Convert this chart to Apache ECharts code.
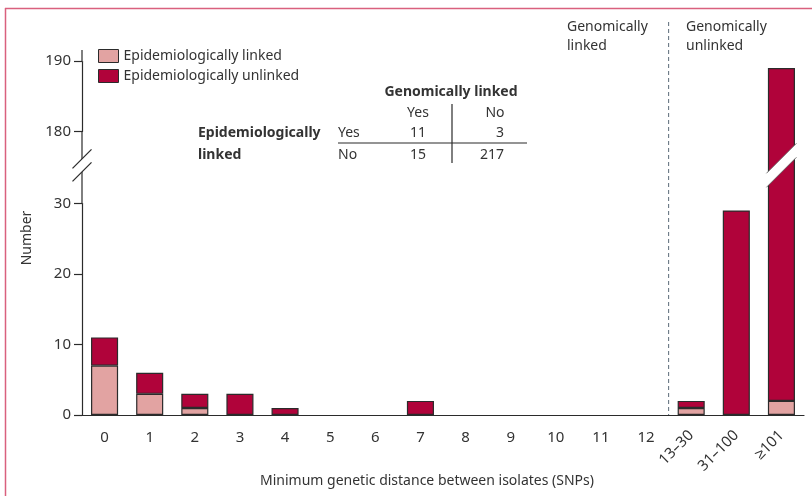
<!DOCTYPE html>
<html>
<head>
<meta charset="utf-8">
<script src="https://cdn.jsdelivr.net/npm/echarts@6/dist/echarts.min.js"></script>
<style>
  html, body { margin: 0; padding: 0; background: #fff; }
  #main { width: 812px; height: 496px; }
</style>
</head>
<body>
<div id="main"></div>
<script>
// values
const categories = ['0', '1', '2', '3', '4', '5', '6', '7', '8', '9', '10', '11', '12', '13–30', '31–100', '≥101'];
const epiLinked   = [7, 3, 1, 0, 0, 0, 0, 0, 0, 0, 0, 0, 0, 1, 0, 2];
const epiUnlinked = [4, 3, 2, 3, 1, 0, 0, 2, 0, 0, 0, 0, 0, 1, 29, 187];
const seriesNames = ['Epidemiologically linked', 'Epidemiologically unlinked'];
const tableCols = ['Yes', 'No'];
const tableRows = [['Yes', 11, 3], ['No', 15, 217]];

const font = '"Noto Sans", sans-serif';
const ink = '#333';
const edge = '#2b2b2b';
const colors = ['#e2a3a2', '#b0033a'];

let chart = echarts.init(document.getElementById('main'));

let mkSeries = function (name, vals, color) {
  return {
    name: name,
    type: 'bar',
    stack: 'total',
    barWidth: '60%',
    data: vals.map(v => (v === 0 ? '-' : v)),
    itemStyle: { color: color, borderColor: edge, borderWidth: 1.2 }
  };
};

chart.setOption({
  animation: false,
  textStyle: { fontFamily: font, color: ink },
  legend: {
    orient: 'vertical',
    left: 93,
    top: 44,
    itemWidth: 20,
    itemHeight: 13,
    itemGap: 6,
    icon: 'rect',
    itemStyle: { borderColor: edge, borderWidth: 1 },
    textStyle: { fontFamily: font, fontSize: 14, color: ink },
    data: seriesNames
  },
  grid: { left: 82, right: 8, top: 61, bottom: 81, containLabel: false, outerBoundsMode: 'none' },
  xAxis: [{
    type: 'category',
    data: categories,
    axisLine: { lineStyle: { color: edge, width: 1.2 } },
    axisTick: { alignWithLabel: true, length: 9, lineStyle: { color: edge, width: 1.2 } },
    axisLabel: {
      interval: 0, fontSize: 15, color: ink, margin: 15, fontFamily: font,
      formatter: (v, i) => (i < 13 ? v : '')
    }
  }, {
    type: 'category',
    position: 'bottom',
    data: categories,
    axisLine: { show: false },
    axisTick: { show: false },
    axisLabel: {
      interval: 0, fontSize: 15, color: ink, margin: 18, rotate: 45, fontFamily: font,
      formatter: (v, i) => (i >= 13 ? v : '')
    }
  }],
  yAxis: {
    type: 'value',
    min: 0,
    max: 190,
    interval: 10,
    breaks: [{ start: 30, end: 180, gap: '20.3%' }],
    breakArea: { show: false, zigzagAmplitude: 0, itemStyle: { opacity: 0, borderWidth: 0 } },
    axisLine: { show: true, lineStyle: { color: edge, width: 1.2 } },
    axisTick: { show: true, length: 8, lineStyle: { color: edge, width: 1.2 } },
    axisLabel: {
      fontSize: 15, color: ink, margin: 11, fontFamily: font, hideOverlap: false,
      formatter: v => (v % 10 === 0 ? String(v) : '')
    },
    splitLine: { show: false },
    name: 'Number',
    nameLocation: 'middle',
    nameGap: 48,
    nameMoveOverlap: false,
    nameTextStyle: { fontSize: 14, color: ink, fontFamily: font }
  },
  series: [
    mkSeries(seriesNames[0], epiLinked, colors[0]),
    mkSeries(seriesNames[1], epiUnlinked, colors[1])
  ]
});

// decorations placed from the axes
let yAt = v => chart.convertToPixel({ yAxisIndex: 0 }, v);
let xAt = i => chart.convertToPixel({ xAxisIndex: 0 }, i);
let y0 = yAt(0), y30 = yAt(30), y180 = yAt(180), y190 = yAt(190);
let step = xAt(1) - xAt(0);
let axisX = xAt(0) - step / 2;
let yc = y180 + 0.47 * (y30 - y180);

let txt = function (text, x, y, opts) {
  opts = opts || {};
  return {
    type: 'text', x: x, y: y, z: 100,
    style: {
      text: text,
      font: (opts.bold ? 'bold ' : '') + (opts.size || 14) + 'px ' + font,
      fill: ink,
      align: opts.align || 'left', textAlign: opts.align || 'left',
      verticalAlign: 'middle', textVerticalAlign: 'middle',
      lineHeight: 19
    }
  };
};
let line = function (x1, y1, x2, y2, stroke, w, dash, z) {
  return {
    type: 'line', z: z || 100,
    shape: { x1: x1, y1: y1, x2: x2, y2: y2 },
    style: { stroke: stroke, lineWidth: w, lineDash: dash || null }
  };
};
let breakMark = function (xc, halfW, halfT, stroke, w) {
  let p = [
    [xc - halfW, yc - halfT + halfW], [xc + halfW, yc - halfT - halfW],
    [xc + halfW, yc + halfT - halfW], [xc - halfW, yc + halfT + halfW]
  ];
  return [
    { type: 'polygon', z: 99, shape: { points: p }, style: { fill: '#fff', stroke: null } },
    line(p[0][0], p[0][1], p[1][0], p[1][1], stroke, w),
    line(p[3][0], p[3][1], p[2][0], p[2][1], stroke, w)
  ];
};

let g = [];
// frame
g.push(line(5.5, 8, 5.5, 496, '#d9607e', 1.5));
g.push(line(5, 8.5, 812, 8.5, '#d9607e', 1.5));
// axis top extension, axis through the gap, and break marks
g.push(line(axisX, 50, axisX, y190, edge, 1.2));
g.push(line(axisX, y180, axisX, y30, edge, 1.2, null, 98));
g = g.concat(breakMark(axisX, 9.5, 6.5, edge, 1.2));
g = g.concat(breakMark(xAt(15), 15, 7, '#555', 0.8));
// split between genomically linked and unlinked
let splitX = (xAt(12) + xAt(13)) / 2;
g.push(line(splitX, 22, splitX, y0, '#5b6b78', 1, [4, 3]));
g.push(txt('Genomically\nlinked', 567, 37));
g.push(txt('Genomically\nunlinked', 686, 37));
// inset table
g.push(txt('Genomically linked', 451, 92, { bold: true, align: 'center' }));
g.push(txt(tableCols[0], 418, 113, { align: 'center' }));
g.push(txt(tableCols[1], 495, 113, { align: 'center' }));
g.push(txt('Epidemiologically', 198, 133, { bold: true }));
g.push(txt('linked', 198, 155, { bold: true }));
tableRows.forEach(function (r, i) {
  let y = 133 + i * 22;
  g.push(txt(r[0], 338, y));
  g.push(txt(String(r[1]), 418, y, { align: 'center' }));
  g.push(txt(String(r[2]), 504, y, { align: 'right' }));
});
g.push(line(338, 143, 527, 143, edge, 1.2));
g.push(line(452, 104, 452, 163, edge, 1.2));
// x axis title
g.push(txt('Minimum genetic distance between isolates (SNPs)', 427, 481, { align: 'center' }));

chart.setOption({ graphic: g });
</script>
</body>
</html>
